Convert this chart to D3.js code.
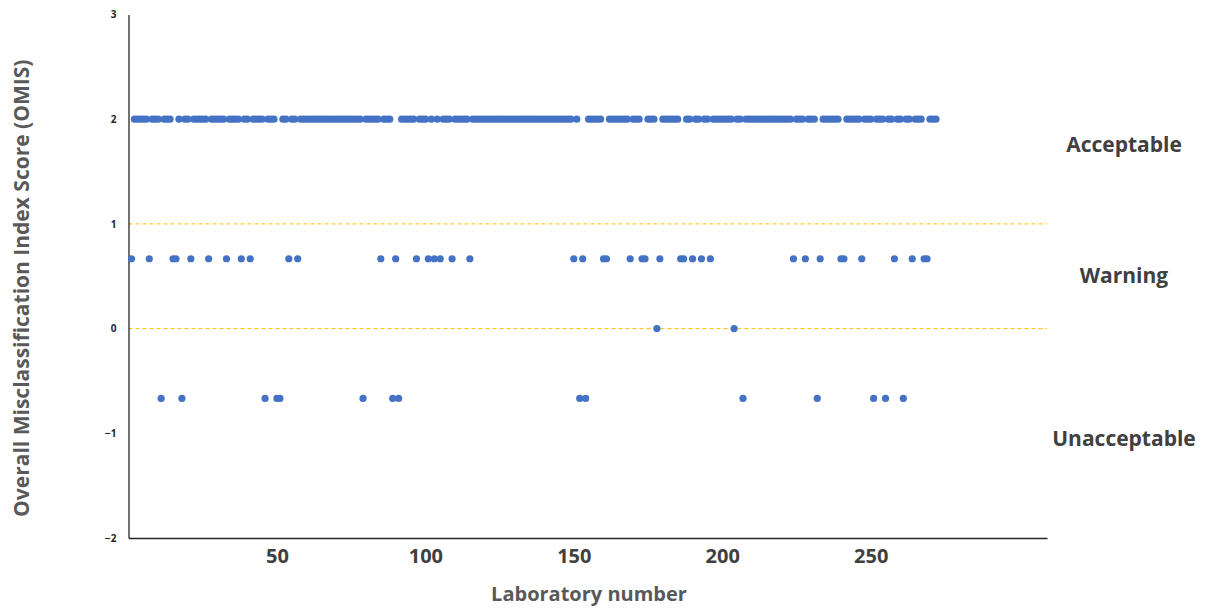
<!DOCTYPE html>
<html>
<head>
<meta charset="utf-8">
<script src="https://cdn.jsdelivr.net/npm/d3@7/dist/d3.min.js"></script>
<style>
  html, body { margin: 0; padding: 0; background: #ffffff; }
  svg { display: block; font-family: "Open Sans", "Noto Sans", sans-serif; }
</style>
</head>
<body>
<svg id="chart" width="1206" height="609"></svg>
<script>
// ---- Data ----
const acceptableLabs = [
  2,3,4,5,6,8,9,10,12,13,14,17,19,20,22,23,24,25,26,28,29,30,31,32,34,35,36,37,39,40,
  42,43,44,45,47,48,49,52,53,55,56,58,59,60,61,62,63,64,65,66,67,68,69,70,71,72,73,74,75,76,77,78,
  80,81,82,83,84,86,87,88,92,93,94,95,96,98,99,100,102,104,106,107,108,110,111,112,113,114,
  116,117,118,119,120,121,122,123,124,125,126,127,128,129,130,131,132,133,134,135,136,137,138,139,140,
  141,142,143,144,145,146,147,148,149,151,155,156,157,158,159,162,163,164,165,166,167,168,170,171,172,
  175,176,177,180,181,182,183,184,185,188,189,191,192,194,195,197,198,199,200,201,202,203,205,206,
  208,209,210,211,212,213,214,215,216,217,218,219,220,221,222,223,225,226,227,229,230,231,
  234,235,236,237,238,239,242,243,244,245,246,248,249,250,252,253,254,256,257,259,260,262,263,
  265,266,267,270,271,272
];
const acceptableScore = 2;

const warningLabs = [1,7,15,16,21,27,33,38,41,54,57,85,90,97,101,103,105,109,115,150,153,160,161,
  169,173,174,179,186,187,190,193,196,224,228,233,240,241,247,258,264,268,269];
const warningScore = 0.667;

const zeroLabs = [178, 204];
const zeroScore = 0;

const unacceptableLabs = [11,18,46,50,51,79,89,91,152,154,207,232,251,255,261];
const unacceptableScore = -0.667;

const xTicks = [50, 100, 150, 200, 250];
const yTicks = [-2, -1, 0, 1, 2, 3];
const thresholds = [1, 0];
const zoneLabels = ["Acceptable", "Warning", "Unacceptable"];
const zoneLabelY = [1.75, 0.5, -1.05];

// ---- Build point table ----
const points = []
  .concat(acceptableLabs.map(l => ({lab: l, score: acceptableScore})))
  .concat(warningLabs.map(l => ({lab: l, score: warningScore})))
  .concat(zeroLabs.map(l => ({lab: l, score: zeroScore})))
  .concat(unacceptableLabs.map(l => ({lab: l, score: unacceptableScore})));

// ---- Layout ----
const svg = d3.select("#chart");
const plotLeft = 128.5, plotRight = 1047, plotTop = 14.5, plotBottom = 538;

const x = d3.scaleLinear().domain([0, 309.4]).range([plotLeft, plotRight]);
const y = d3.scaleLinear().domain([-2, 3]).range([plotBottom, plotTop]);

// threshold dashed lines
svg.append("g").selectAll("line").data(thresholds).join("line")
  .attr("x1", plotLeft).attr("x2", plotRight)
  .attr("y1", d => y(d)).attr("y2", d => y(d))
  .attr("stroke", "#FFC000").attr("stroke-width", 1)
  .attr("stroke-dasharray", "4,3");

// y axis
const yAxis = d3.axisLeft(y).tickValues(yTicks).tickSize(0).tickPadding(12).tickFormat(d3.format("d"));
const gy = svg.append("g").attr("transform", `translate(${plotLeft},0)`).call(yAxis);
gy.select(".domain").attr("stroke", "#262626").attr("stroke-width", 1.3);
gy.selectAll("text").attr("font-size", 10).attr("font-weight", 700).attr("fill", "#262626")
  .attr("font-family", "'Open Sans', sans-serif");

// x axis
const xAxis = d3.axisBottom(x).tickValues(xTicks).tickSize(0).tickPadding(11);
const gx = svg.append("g").attr("transform", `translate(0,${plotBottom})`).call(xAxis);
gx.select(".domain").attr("stroke", "#262626").attr("stroke-width", 1.3);
gx.selectAll("text").attr("font-size", 20).attr("font-weight", 700).attr("fill", "#404040")
  .attr("font-family", "'Open Sans', sans-serif");

// points
svg.append("g").selectAll("circle").data(points).join("circle")
  .attr("cx", d => x(d.lab)).attr("cy", d => y(d.score))
  .attr("r", 3.6).attr("fill", "#4472C4");

// axis titles
svg.append("text")
  .attr("x", 589).attr("y", 601)
  .attr("text-anchor", "middle")
  .attr("font-size", 20).attr("font-weight", 700).attr("fill", "#595959")
  .text("Laboratory number");

svg.append("text")
  .attr("transform", `translate(29,${(plotTop + plotBottom) / 2 + 12}) rotate(-90)`)
  .attr("text-anchor", "middle")
  .attr("font-size", 21).attr("font-weight", 700).attr("fill", "#595959")
  .text("Overall Misclassification Index Score (OMIS)");

// zone labels
svg.append("g").selectAll("text").data(zoneLabels).join("text")
  .attr("x", 1124).attr("y", (d, i) => y(zoneLabelY[i]) + 7)
  .attr("text-anchor", "middle")
  .attr("font-size", 21).attr("font-weight", 700).attr("fill", "#404040")
  .text(d => d);
</script>
</body>
</html>
